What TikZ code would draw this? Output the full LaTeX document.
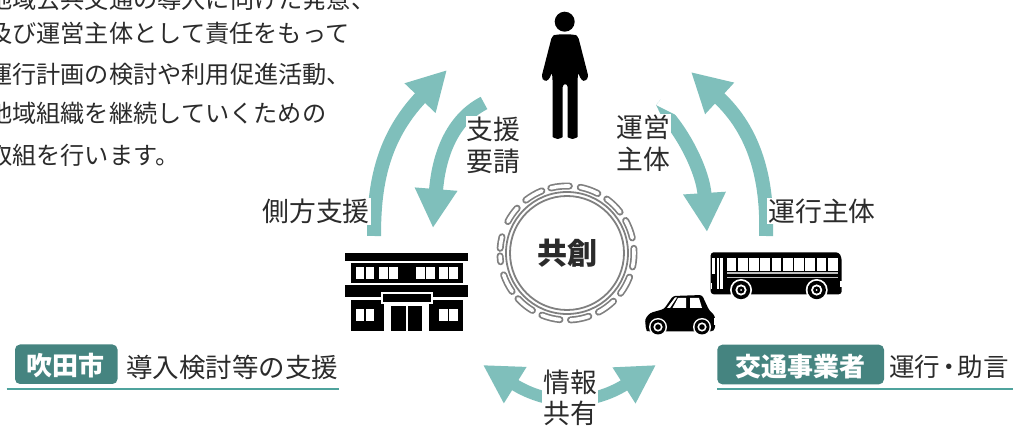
\documentclass[tikz,border=0pt]{standalone}
\usepackage{fontspec}
\setmainfont{Noto Sans CJK JP}
\usetikzlibrary{arrows.meta,calc}
\definecolor{arrowteal}{HTML}{7FBFBB}
\definecolor{badgec}{HTML}{458480}
\definecolor{rulet}{HTML}{4FA39D}
\definecolor{ink}{HTML}{2B2B2B}
\definecolor{ringc}{HTML}{808080}
\tikzset{x=1pt,y=-1pt,
 lbl/.style={font=\fontsize{26.8}{31.5}\selectfont,text=ink,inner sep=1pt,align=center,fill=white},
 body/.style={font=\fontsize{24.2}{24}\selectfont,text=ink,inner sep=0pt,anchor=west},
 shaft/.style={draw=arrowteal,line width=14pt,-{Triangle[length=39pt,width=40pt]}},
 softshaft/.style={draw=arrowteal,line width=12pt,-{Triangle[length=38pt,width=40pt]}},
 badgebox/.style={fill=badgec,rounded corners=5pt,draw=none},
 badgetext/.style={text=white,font=\fontsize{26}{26}\selectfont\bfseries,inner sep=0pt},
 side/.style={text=ink,font=\fontsize{26.5}{26.5}\selectfont,inner sep=0pt},
 rulel/.style={draw=rulet,line width=2pt},
 ring/.style={draw=ringc,line width=1.8pt},
 capout/.style={draw=ringc,line width=7pt,line cap=round},
 capin/.style={draw=white,line width=3.6pt,line cap=round},
}
\begin{document}
\begin{tikzpicture}
\useasboundingbox (0,0) rectangle (1013,427);
% explanatory text, cut by the page edge
\node[body] (t1) at (-12,-1) {地域公共交通の導入に向けた発意、};
\node[body] (t2) at (-12,33) {及び運営主体として責任をもって};
\node[body] (t3) at (-12,74) {運行計画の検討や利用促進活動、};
\node[body] (t4) at (-12,113) {地域組織を継続していくための};
\node[body] (t5) at (-12,155) {取組を行います。};
% arrow end points
\coordinate (aS) at (374,236); \coordinate (aT) at (447,70);
\coordinate (bS) at (484,103); \coordinate (bT) at (433,228);
\coordinate (cS) at (656,105); \coordinate (cT) at (707,232);
\coordinate (dS) at (766,236); \coordinate (dT) at (691,72);
\coordinate (eM) at (570,400); \coordinate (eL) at (483,365); \coordinate (eR) at (656,365);
% arrows
\draw[shaft] (aS) .. controls (374,190) and (380,140) .. (aT);
\draw[shaft] (bS) .. controls (447,122) and (438,165) .. (bT);
\draw[shaft] (cS) .. controls (680,125) and (703,170) .. (cT);
\draw[shaft] (dS) .. controls (768,180) and (755,131) .. (dT);
\draw[softshaft] (eM) .. controls (552,401) and (531,395) .. (eL);
\draw[softshaft] (eM) .. controls (588,401) and (609,395) .. (eR);
% taper of the start of the right inner arrow
\fill[white] (650,96) -- (664,96) -- (656,105) -- (678,116) -- (664,96) -- cycle;
\fill[white] (648,104) -- (656,105) -- (665,124) -- (648,116) -- cycle;
% labels
\node[lbl] (lA) at (316,211.5) {側方支援};
\node[lbl] (lB) at (493.5,145.5) {支援\\要請};
\node[lbl] (lC) at (643.5,143.5) {運営\\主体};
\node[lbl] (lD) at (822,211) {運行主体};
\node[lbl] (lE) at (570,398) {情報\\共有};
% ring
\coordinate (rc) at (567,253);
\draw[ring] (rc) circle[radius=57];
\draw[ring] (rc) circle[radius=61];
\foreach \a/\s in {96/8,70.6/8,45.6/8,21/8,-4/8,-29/8,-54/8,-79/8,-104/8,-129/8,-153/8,-175/2.5,171/5,145/7,120/8}{
 \draw[capout] ($(rc)+({(\a-\s)}:67 and -67)$) arc[start angle=-(\a-\s),delta angle=-2*\s,radius=67];
 \draw[capin] ($(rc)+({(\a-\s)}:67 and -67)$) arc[start angle=-(\a-\s),delta angle=-2*\s,radius=67];
}
\node[font=\fontsize{30}{30}\selectfont\bfseries,text=ink,inner sep=0pt] (kyoso) at (rc) {共創};
% person
\fill[black] (564.7,21.7) circle[radius=10];
\fill[black,rounded corners=3pt] (556,34.5) -- (574,34.5) -- (578,36) -- (588.5,77) -- (585.5,81.5) -- (581,80) -- (578,72) -- (577.5,83) -- (577.5,134) 
  arc[start angle=0,end angle=180,radius=5,y radius=5] -- (567.7,84) -- (562.7,84) -- (562.7,134) arc[start angle=0,end angle=180,radius=5] -- (552.7,83) -- (552,72) -- (549,80) -- (544,81.5) -- (541.5,77) -- (552,36) -- cycle;
% building
\fill[black] (345.3,253.3) rectangle (468,261);
\fill[black] (350.7,263.3) rectangle (462.7,282.7);
\fill[black] (345.3,285) rectangle (468,297.3);
\fill[black] (350.7,300) rectangle (384.3,330.7);
\fill[black] (429.3,300) rectangle (462.7,330.7);
\fill[black] (391,305.7) rectangle (422.3,330.7);
\fill[white] (380.7,291.7) rectangle (433.3,304);
\fill[black] (383.3,294) rectangle (430.7,302);
\fill[white] (406,306) rectangle (407.5,330.7);
\foreach \x in {355.7,379,416,439}{
 \fill[white] (\x,267.3) rectangle ++(18.6,11.7);
 \fill[black] (\x+8.5,267.3) rectangle ++(1.6,11.7);
}
\foreach \x in {355.7,439}{
 \fill[white] (\x,309) rectangle ++(18.6,11.7);
 \fill[black] (\x+8.5,309) rectangle ++(1.6,11.7);
}
% bus
\fill[black,rounded corners=3pt] (710.7,252.3) -- (839,252.3) -- (841.7,258) -- (841.7,294.3) -- (710.7,294.3) -- cycle;
\fill[white] (712.3,258) rectangle (715,274);
\fill[white] (716.7,257.7) rectangle (723.3,289.3);
\fill[black] (719.4,257.7) rectangle (720.4,289.3);
\fill[white] (840,281) rectangle (841.7,287);
\fill[white] (710.7,283) rectangle (712.3,289);
\foreach \i in {0,...,9}{
 \fill[white] ({726.7+\i*11.25},257.7) rectangle ++(9.7,13);
}
\fill[white!75!black] (726.7,272.2) rectangle (838.3,273.7);
\fill[white!75!black] (726.7,276.6) rectangle (838.3,278);
\foreach \x in {741,816.7}{
 \fill[white] (\x,290) circle[radius=11];
 \fill[black] (\x,290) circle[radius=9.2];
 \fill[white] (\x,290) circle[radius=5.6];
 \fill[black] (\x,290) circle[radius=3.6];
 \fill[white] (\x,290) circle[radius=1];
}
% car
\fill[black,rounded corners=2.5pt] (646,330) -- (645,319) -- (650,313) -- (664,309) -- (673,296) -- (702,295) -- (709,310) -- (715,316) -- (715,329) -- (712,331.5) -- (648,331.5) -- cycle;
\fill[white] (667,308) -- (675,297.5) -- (677,297.5) -- (670,308) -- cycle;
\fill[white] (672.5,308) -- (678,298) -- (686,298) -- (686,308) -- cycle;
\fill[white] (690,298) -- (699,298) -- (702,308) -- (690,308) -- cycle;
\fill[white] (714,318) rectangle (715.5,325);
\foreach \x in {658,702}{
 \fill[white] (\x,327) circle[radius=9];
 \fill[black] (\x,327) circle[radius=7.5];
 \fill[white] (\x,327) circle[radius=4.6];
 \fill[black] (\x,327) circle[radius=2.8];
}
% left caption
\fill[badgebox] (15,344.5) rectangle (117.5,384);
\node[badgetext] (b1) at (66,365.5) {吹田市};
\node[side,anchor=west] (s1) at (126,367) {導入検討等の支援};
\coordinate (r1a) at (6.5,389); \coordinate (r1b) at (339,389);
\draw[rulel] (r1a) -- (r1b);
% right caption
\fill[badgebox] (717.3,344.7) rectangle (884,384.3);
\node[badgetext] (b2) at (800.5,366.5) {交通事業者};
\node[side,anchor=west,font=\fontsize{25.5}{25}\selectfont] (s2) at (889,367) {運行\kern-4pt・\kern-4pt助言};
\coordinate (r2a) at (717,388.7); \coordinate (r2b) at (1013,388.7);
\draw[rulel] (r2a) -- (r2b);
\end{tikzpicture}
\end{document}
